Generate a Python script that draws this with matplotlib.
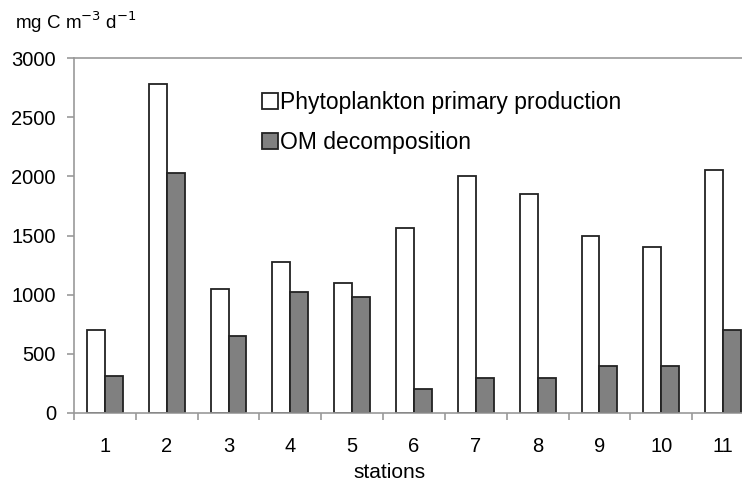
import matplotlib.pyplot as plt
import numpy as np

plt.rcParams['font.family'] = ['Liberation Sans', 'DejaVu Sans']

# values (mg C m-3 d-1)
stations = ['1', '2', '3', '4', '5', '6', '7', '8', '9', '10', '11']
primary_production = [700, 2780, 1050, 1280, 1100, 1560, 2000, 1850, 1500, 1400, 2050]
om_decomposition = [310, 2025, 650, 1020, 980, 200, 300, 300, 400, 400, 700]

fig = plt.figure(figsize=(7.42, 4.83), dpi=100)
ax = fig.add_axes([74/742, 70/483, 680/742, 355/483])

x = np.arange(len(stations))
w = 0.29
ax.bar(x - w/2, primary_production, w, color='white', edgecolor='#222222', lw=1.3,
       label='Phytoplankton primary production')
ax.bar(x + w/2, om_decomposition, w, color='#808080', edgecolor='#222222', lw=1.3,
       label='OM decomposition')

ax.set_xlim(-0.5, len(stations) - 0.5)
ax.set_ylim(0, 3000)
ax.set_yticks(range(0, 3001, 500))
ax.set_xticks(x)
ax.set_xticklabels(stations)
ax.set_xticks(np.arange(-0.5, len(stations), 1), minor=True)
ax.tick_params(axis='x', which='major', length=0, pad=17, labelsize=14.5)
ax.tick_params(axis='x', which='minor', length=5, color='#999999', width=1.2)
ax.tick_params(axis='y', length=5, color='#999999', width=1.2, pad=8, labelsize=14.5)

for s in ['left', 'bottom', 'top']:
    ax.spines[s].set_color('#999999')
    ax.spines[s].set_linewidth(1.2)
ax.spines['right'].set_visible(False)

fig.text(389/742, 1 - 472/483, 'stations', fontsize=15, ha='center', va='center')
fig.text(15/742, 1 - 22/483, 'mg C m$^{-3}$ d$^{-1}$', fontsize=13.5, va='center', ha='left')

ax.legend(loc='upper left', bbox_to_anchor=(241/742, 1 - 70/483), bbox_transform=fig.transFigure,
          frameon=False, fontsize=16.5, handlelength=0.7, handleheight=0.7,
          handletextpad=0.1, labelspacing=0.75)

fig.savefig('out.png', dpi=100)
